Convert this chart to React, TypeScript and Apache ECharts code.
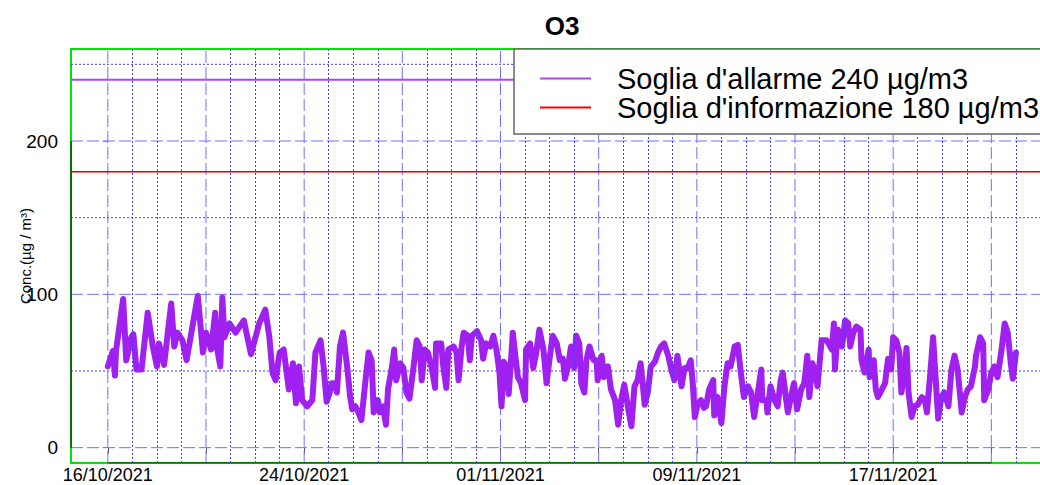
import React, { useEffect, useRef } from "react";
import * as echarts from "echarts";

// Hours elapsed since 16/10/2021 00:00 and the O3 concentration read at that hour
const obsHours = [
  0, 5, 7, 8, 15, 18, 23, 25, 28, 33, 39, 44, 48, 50, 55, 62, 65, 68, 73, 77, 88, 93, 96, 101, 105, 107, 110, 112, 114, 119,
  125, 133, 140, 148, 154, 158, 161, 164, 168, 172, 177, 181, 184, 187,
  190, 195, 200, 203, 208, 211, 214, 217, 219, 222, 224, 227, 230, 234, 237, 239, 242, 245, 248, 252, 255, 258, 260, 264,
  266, 269, 272, 274, 278, 280, 282, 286, 289, 292, 295, 299, 302, 305, 307, 310, 313, 317, 320, 321, 326, 328, 331, 333,
  338, 341, 343, 346, 348, 352, 354, 356, 361, 365, 367, 370, 374, 377, 380, 383, 385, 387, 390, 392, 395, 396, 399, 401,
  404, 408, 409, 413, 416, 419, 422, 426, 429, 432, 435, 439, 442, 445, 447, 450, 453, 456, 458, 461,
  463, 466, 468, 471, 475, 478, 479, 483, 485, 489, 492, 496, 499, 502, 505, 509, 512, 515, 518, 521, 523, 525, 528, 531,
  535, 538, 541, 544, 548, 551, 554, 557, 561, 564, 567, 570, 572, 574, 577, 580, 583, 585, 588, 592, 593, 596, 600, 603,
  606, 609, 613, 616, 619, 622, 626, 629, 632, 635, 639, 640, 644, 645, 648, 652, 655, 658, 660, 663, 665, 668, 671, 674,
  678, 681, 684, 686, 689, 692, 694,
  698, 703, 708, 710, 711, 714, 718, 721, 724, 726, 729, 732, 736, 737, 740, 744, 745, 749, 751, 753, 757, 760, 763, 766,
  768, 771, 774, 776, 779, 781, 783, 786, 789, 792, 796, 799, 801, 804, 807, 810, 812, 815, 818, 822, 825, 828, 831, 835,
  838, 841, 844, 848, 849, 853, 856, 857, 861, 864, 867, 870, 874, 877, 880, 883, 885, 888,
];

const o3Values = [
  53, 63, 47, 63, 97, 57, 72, 74, 51, 51, 88, 66, 53, 68, 54, 94, 66, 75, 70, 57, 99, 62, 75, 64, 88, 64, 53, 98, 72, 81,
  75, 83, 61, 81, 90, 72, 49, 44, 62, 64, 38, 55, 29, 53,
  31, 27, 31, 62, 70, 53, 30, 36, 42, 42, 36, 66, 75, 53, 33, 25, 27, 23, 18, 44, 62, 57, 23, 31,
  23, 27, 15, 38, 53, 64, 44, 55, 52, 36, 32, 53, 70, 66, 44, 64, 62, 51, 39, 68, 68, 53, 39, 64,
  66, 62, 44, 66, 75, 73, 57, 73, 76, 70, 58, 68, 66, 73, 64, 49, 27, 56, 53, 35, 64, 75, 57, 46,
  42, 31, 64, 68, 52, 62, 77, 64, 42, 58, 73, 68, 57, 58, 45, 53, 66, 52, 73, 68,
  42, 36, 57, 66, 57, 57, 44, 60, 46, 53, 38, 31, 15, 31, 41, 25, 14, 40, 44, 55, 42, 28, 36, 53,
  56, 62, 66, 68, 60, 51, 44, 60, 40, 52, 52, 57, 42, 20, 29, 31, 26, 27, 38, 44, 21, 33, 16, 40,
  55, 53, 66, 67, 49, 33, 40, 36, 20, 33, 51, 31, 31, 23, 40, 31, 27, 44, 49, 33, 23, 33, 42, 25,
  38, 42, 60, 33, 55, 49, 40,
  70, 70, 64, 81, 51, 77, 66, 83, 81, 66, 75, 79, 77, 57, 49, 64, 46, 57, 38, 33, 38, 42, 58, 51,
  72, 70, 62, 36, 49, 65, 36, 20, 27, 28, 33, 31, 23, 46, 72, 40, 19, 33, 36, 27, 51, 60, 51, 23,
  33, 38, 40, 53, 60, 72, 68, 31, 38, 49, 53, 46, 64, 81, 75, 55, 45, 62,
];

const alarmName = "Soglia d'allarme 240 µg/m3";
const infoName = "Soglia d'informazione 180 µg/m3";
const alarmLevel = 240;
const infoLevel = 180;

const tickHours = [0, 96, 192, 288, 384, 480, 576, 672, 768, 864];
const labelHours = [0, 192, 384, 576, 768];
const dateLabels = ["16/10/2021", "24/10/2021", "01/11/2021", "09/11/2021", "17/11/2021"];
const yLabelValues = [0, 100, 200];
const yDottedValues = [50, 150, 250];

const X_MIN = -36;
const X_MAX = 936;
const Y_MIN = -10;
const Y_MAX = 260;
const FONT = "'Liberation Sans', Arial, sans-serif";
const DOT_COLOR = "#4040ff";
const DASH_COLOR = "#7070ff";

function verticalData(hours: number[]) {
  const out: any[] = [];
  hours.forEach((h) => out.push([h, Y_MIN], [h, Y_MAX], [h, "-"]));
  return out;
}
function horizontalData(values: number[]) {
  const out: any[] = [];
  values.forEach((v) => out.push([X_MIN, v], [X_MAX, v], ["-", v]));
  return out;
}

function gridSeries(name: string, data: any[], color: string, dash: any, z: number) {
  return {
    name,
    type: "line",
    data,
    symbol: "none",
    silent: true,
    connectNulls: false,
    color,
    itemStyle: { color },
    z,
    lineStyle: { color, width: 1, type: dash },
    emphasis: { disabled: true },
  };
}

export default function App() {
  const ref = useRef<HTMLDivElement>(null);

  useEffect(() => {
    if (!ref.current) return;
    const chart = echarts.init(ref.current, undefined, { renderer: "svg" });

    const dottedV: number[] = [];
    const dashedV: number[] = [];
    for (let h = 0; h <= X_MAX; h += 24) {
      if (tickHours.indexOf(h) >= 0) dashedV.push(h);
      else dottedV.push(h);
    }

    // R-style axis lines spanning first to last tick
    const axesData = [
      [X_MIN, yLabelValues[0]],
      [X_MIN, yLabelValues[yLabelValues.length - 1]],
      [X_MIN, "-"],
      [tickHours[0], Y_MIN],
      [tickHours[tickHours.length - 1], Y_MIN],
    ];

    const o3Data = obsHours.map((h, i) => [h, o3Values[i]]);

    const dottedHSeries: any = gridSeries("dottedH", horizontalData(yDottedValues), DOT_COLOR, [2, 2], 1);
    dottedHSeries.markLine = {
      silent: true,
      symbol: ["none", "none"],
      label: { show: false },
      animation: false,
      emphasis: { disabled: true },
      lineStyle: { color: DOT_COLOR, width: 1, type: [2, 2] },
      data: dottedV.map((h) => ({ xAxis: h, lineStyle: { color: DOT_COLOR, width: 1, type: [2, 2] } })),
    };

    const option: any = {
      animation: false,
      backgroundColor: "#fff",
      textStyle: { fontFamily: FONT },
      grid: {
        left: 71,
        top: 49,
        width: 994,
        height: 414,
        show: true,
        borderColor: "#00e600",
        borderWidth: 2,
        backgroundColor: "#fff",
        containLabel: false,
        outerBoundsMode: "none",
      },
      xAxis: {
        type: "value",
        min: X_MIN,
        max: X_MAX,
        axisLine: { show: false },
        splitLine: { show: false },
        axisTick: {
          show: true,
          customValues: tickHours,
          length: 6,
          lineStyle: { color: "#555", width: 1 },
        },
        axisLabel: {
          show: true,
          customValues: labelHours,
          margin: 3,
          fontSize: 18,
          fontFamily: FONT,
          color: "#000",
          formatter: (v: number) => {
            const i = labelHours.indexOf(Math.round(v));
            return i >= 0 ? dateLabels[i] : "";
          },
        },
      },
      yAxis: {
        type: "value",
        min: Y_MIN,
        max: Y_MAX,
        name: "Conc.(µg / m³)",
        nameLocation: "middle",
        nameRotate: 90,
        nameGap: 38,
        nameMoveOverlap: false,
        nameTextStyle: { fontSize: 15, fontFamily: FONT, color: "#000" },
        axisLine: { show: false },
        splitLine: { show: false },
        axisTick: {
          show: true,
          customValues: yLabelValues,
          length: 5,
          lineStyle: { color: "#888", width: 1 },
        },
        axisLabel: {
          show: true,
          customValues: yLabelValues,
          margin: 13,
          fontSize: 19,
          fontFamily: FONT,
          color: "#000",
        },
      },
      legend: {
        orient: "vertical",
        left: 540,
        top: 64,
        padding: 0,
        itemGap: 0,
        itemWidth: 51,
        itemHeight: 2,
        icon: "rect",
        z: 40,
        selectedMode: false,
        data: [alarmName, infoName],
        textStyle: {
          fontSize: 29,
          fontFamily: FONT,
          color: "#000",
          padding: [0, 0, 0, 21],
        },
      },
      graphic: [
        {
          type: "rect",
          z: 30,
          shape: { x: 514, y: 49, width: 620, height: 85 },
          style: { fill: "#fff", stroke: "#666", lineWidth: 1.5 },
        },
        {
          type: "text",
          z: 30,
          x: 562,
          y: 26,
          style: {
            text: "O3",
            fill: "#000",
            fontSize: 26,
            fontWeight: "bold",
            fontFamily: FONT,
            align: "center",
            verticalAlign: "middle",
          },
        },
      ],
      series: [
        gridSeries("dashedV", verticalData(dashedV), DASH_COLOR, [12, 4], 1),
        gridSeries("dashedH", horizontalData(yLabelValues), DASH_COLOR, [12, 4], 1),
        dottedHSeries,
        {
          name: "axes",
          type: "line",
          data: axesData,
          symbol: "none",
          silent: true,
          connectNulls: false,
          color: "#000",
          lineStyle: { color: "#000", width: 1 },
          z: 2,
        },
        {
          name: alarmName,
          type: "line",
          data: [
            [X_MIN, alarmLevel],
            [X_MAX, alarmLevel],
          ],
          symbol: "none",
          color: "#a848f0",
          lineStyle: { color: "#a848f0", width: 2 },
          z: 3,
        },
        {
          name: infoName,
          type: "line",
          data: [
            [X_MIN, infoLevel],
            [X_MAX, infoLevel],
          ],
          symbol: "none",
          color: "#ff0000",
          lineStyle: { color: "#e80000", width: 1.5 },
          z: 3,
        },
        {
          name: "O3",
          type: "line",
          data: o3Data,
          symbol: "none",
          color: "#a020f0",
          lineStyle: { color: "#a020f0", width: 6, join: "round", cap: "round" },
          z: 4,
        },
      ],
    };

    chart.setOption(option);
    return () => chart.dispose();
  }, []);

  return (
    <div
      ref={ref}
      style={{ position: "fixed", left: 0, top: 0, width: 1040, height: 485, background: "#fff" }}
    />
  );
}
